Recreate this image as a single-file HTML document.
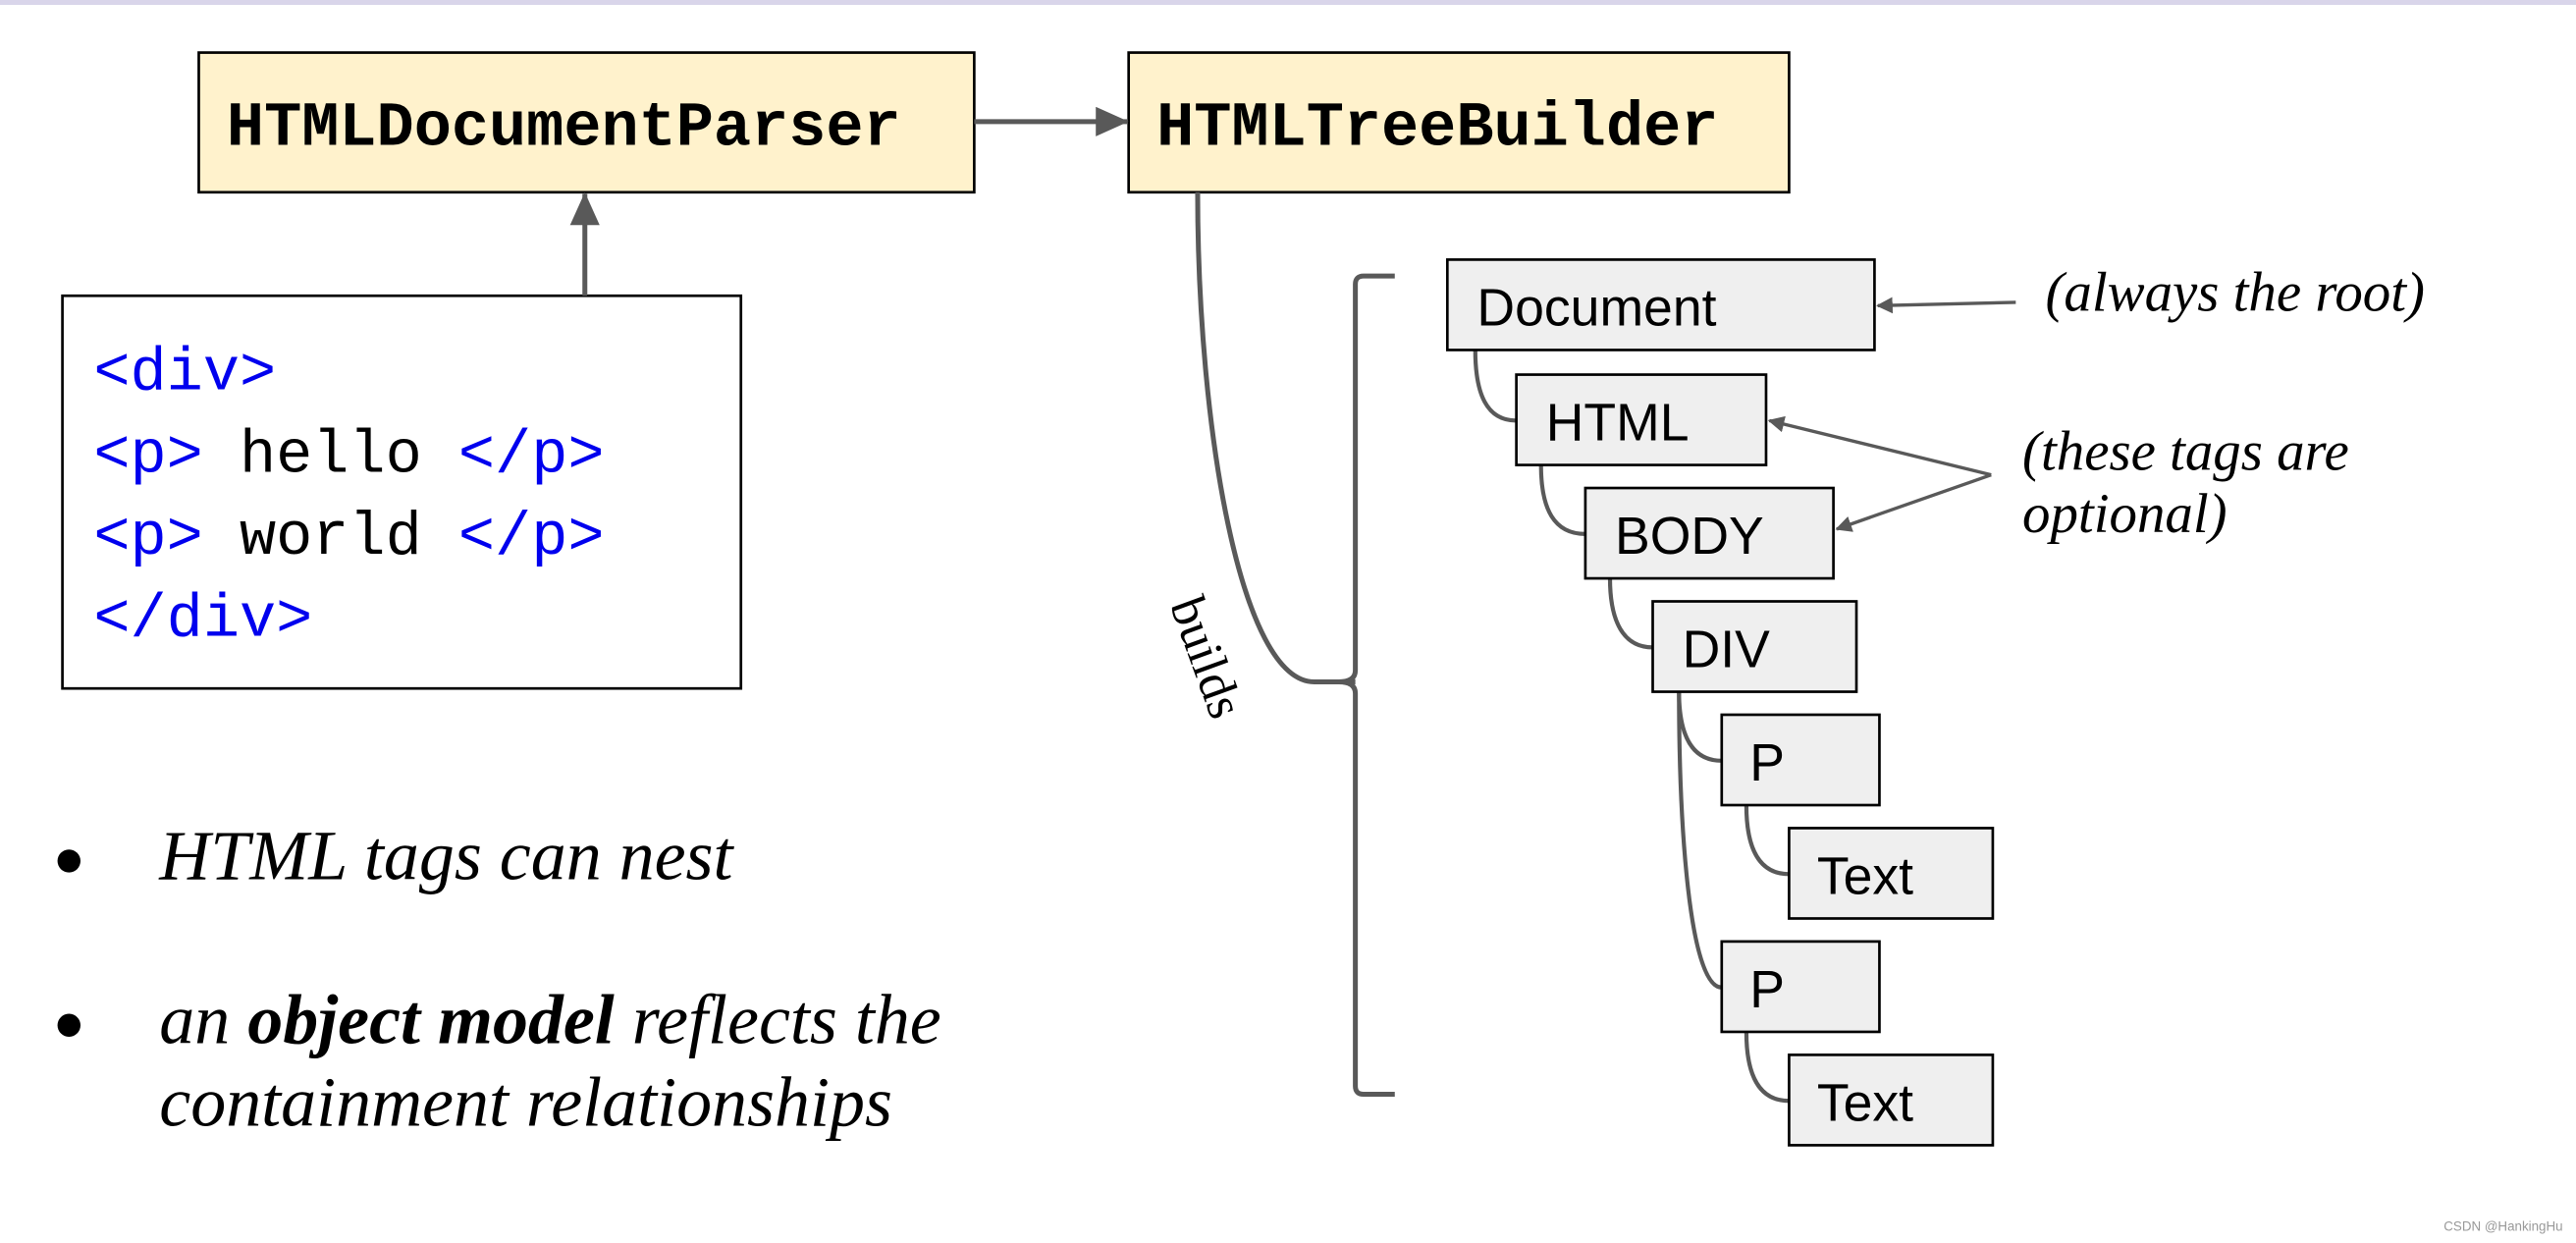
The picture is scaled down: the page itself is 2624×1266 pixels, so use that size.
<!DOCTYPE html>
<html><head><meta charset="utf-8"><style>
html,body{margin:0;padding:0;background:#fff;width:2624px;height:1266px;overflow:hidden}
svg{display:block}
</style></head><body>
<svg width="2624" height="1266" viewBox="0 0 1568 756.5" xmlns="http://www.w3.org/2000/svg">
<defs>
<marker id="ah" markerWidth="10" markerHeight="10" refX="9" refY="5" orient="auto" markerUnits="userSpaceOnUse">
<path d="M0,0 L10,5 L0,10 z" fill="#595959"/>
</marker>
<marker id="ab" markerWidth="20" markerHeight="18" refX="19" refY="9" orient="auto" markerUnits="userSpaceOnUse">
<path d="M0,0 L20,9 L0,18 z" fill="#595959"/>
</marker>
</defs>
<rect x="0" y="0" width="1568" height="3" fill="#d9d5ea"/>
<!-- top boxes -->
<rect x="121" y="32" width="472" height="85" fill="#fff2cc" stroke="#000" stroke-width="1.6"/>
<text x="138" y="88" font-family="Liberation Mono, monospace" font-weight="bold" font-size="38" fill="#000">HTMLDocumentParser</text>
<rect x="687" y="32" width="402" height="85" fill="#fff2cc" stroke="#000" stroke-width="1.6"/>
<text x="704" y="88" font-family="Liberation Mono, monospace" font-weight="bold" font-size="38" fill="#000">HTMLTreeBuilder</text>
<line x1="593" y1="74" x2="686" y2="74" stroke="#595959" stroke-width="3" marker-end="url(#ab)"/>
<!-- code box -->
<rect x="38" y="180" width="413" height="239" fill="#fff" stroke="#000" stroke-width="1.6"/>
<line x1="356" y1="180" x2="356" y2="118" stroke="#595959" stroke-width="3" marker-end="url(#ab)"/>
<g font-family="Liberation Mono, monospace" font-size="37" xml:space="preserve">
<text x="57" y="237" fill="#0000ee">&lt;div&gt;</text>
<text x="57" y="287"><tspan fill="#0000ee">  &lt;p&gt;</tspan><tspan fill="#000"> hello </tspan><tspan fill="#0000ee">&lt;/p&gt;</tspan></text>
<text x="57" y="337"><tspan fill="#0000ee">  &lt;p&gt;</tspan><tspan fill="#000"> world </tspan><tspan fill="#0000ee">&lt;/p&gt;</tspan></text>
<text x="57" y="387" fill="#0000ee">&lt;/div&gt;</text>
</g>
<!-- bullets -->
<circle cx="42" cy="524" r="7" fill="#000"/>
<circle cx="42" cy="624" r="7" fill="#000"/>
<g font-family="Liberation Serif, serif" font-style="italic" font-size="43" fill="#000">
<text x="97" y="535">HTML tags can nest</text>
<text x="97" y="635">an <tspan font-weight="bold">object model</tspan> reflects the</text>
<text x="97" y="685">containment relationships</text>
</g>
<!-- builder curve & brace -->
<g fill="none" stroke="#595959" stroke-width="3">
<path d="M729,117 C729,260 755,415 800,415 L825,415"/>
<path d="M849,168 L830,168 Q825,168 825,173 L825,408 Q825,415 815,415 Q825,415 825,422 L825,661 Q825,666 830,666 L849,666"/>
</g>
<text transform="translate(712,368) rotate(70)" font-family="Liberation Serif, serif" font-size="31" fill="#000">builds</text>
<!-- tree connectors -->
<g fill="none" stroke="#595959" stroke-width="2.5">
<path d="M898,213 C898,240 905,256 923,256"/>
<path d="M938,283 C938,310 946,325 965,325"/>
<path d="M980,352 C980,378 988,394 1006,394"/>
<path d="M1022,421 C1022,448 1030,463 1048,463"/>
<path d="M1063,490 C1063,517 1071,532 1089,532"/>
<path d="M1022,421 C1022,500 1028,601 1048,601"/>
<path d="M1063,628 C1063,655 1071,670 1089,670"/>
</g>
<!-- tree boxes -->
<g fill="#efefef" stroke="#000" stroke-width="1.6">
<rect x="881" y="158" width="260" height="55"/>
<rect x="923" y="228" width="152" height="55"/>
<rect x="965" y="297" width="151" height="55"/>
<rect x="1006" y="366" width="124" height="55"/>
<rect x="1048" y="435" width="96" height="55"/>
<rect x="1089" y="504" width="124" height="55"/>
<rect x="1048" y="573" width="96" height="55"/>
<rect x="1089" y="642" width="124" height="55"/>
</g>
<g font-family="Liberation Sans, sans-serif" font-size="32" fill="#000">
<text x="899" y="198">Document</text>
<text x="941" y="268">HTML</text>
<text x="983" y="337">BODY</text>
<text x="1024" y="406">DIV</text>
<text x="1065" y="475">P</text>
<text x="1106" y="544">Text</text>
<text x="1065" y="613">P</text>
<text x="1106" y="682">Text</text>
</g>
<!-- annotations -->
<g font-family="Liberation Serif, serif" font-style="italic" font-size="34" fill="#000">
<text x="1245" y="189">(always the root)</text>
<text x="1231" y="286">(these tags are</text>
<text x="1231" y="324">optional)</text>
</g>
<g fill="none" stroke="#595959" stroke-width="2">
<line x1="1227" y1="184" x2="1143" y2="186" marker-end="url(#ah)"/>
<path d="M1212,289 L1077,256" marker-end="url(#ah)"/>
<path d="M1212,289 L1118,322" marker-end="url(#ah)"/>
</g>
<text x="1560" y="749" text-anchor="end" font-family="Liberation Sans, sans-serif" font-size="8" fill="#999">CSDN @HankingHu</text>
</svg>
</body></html>
